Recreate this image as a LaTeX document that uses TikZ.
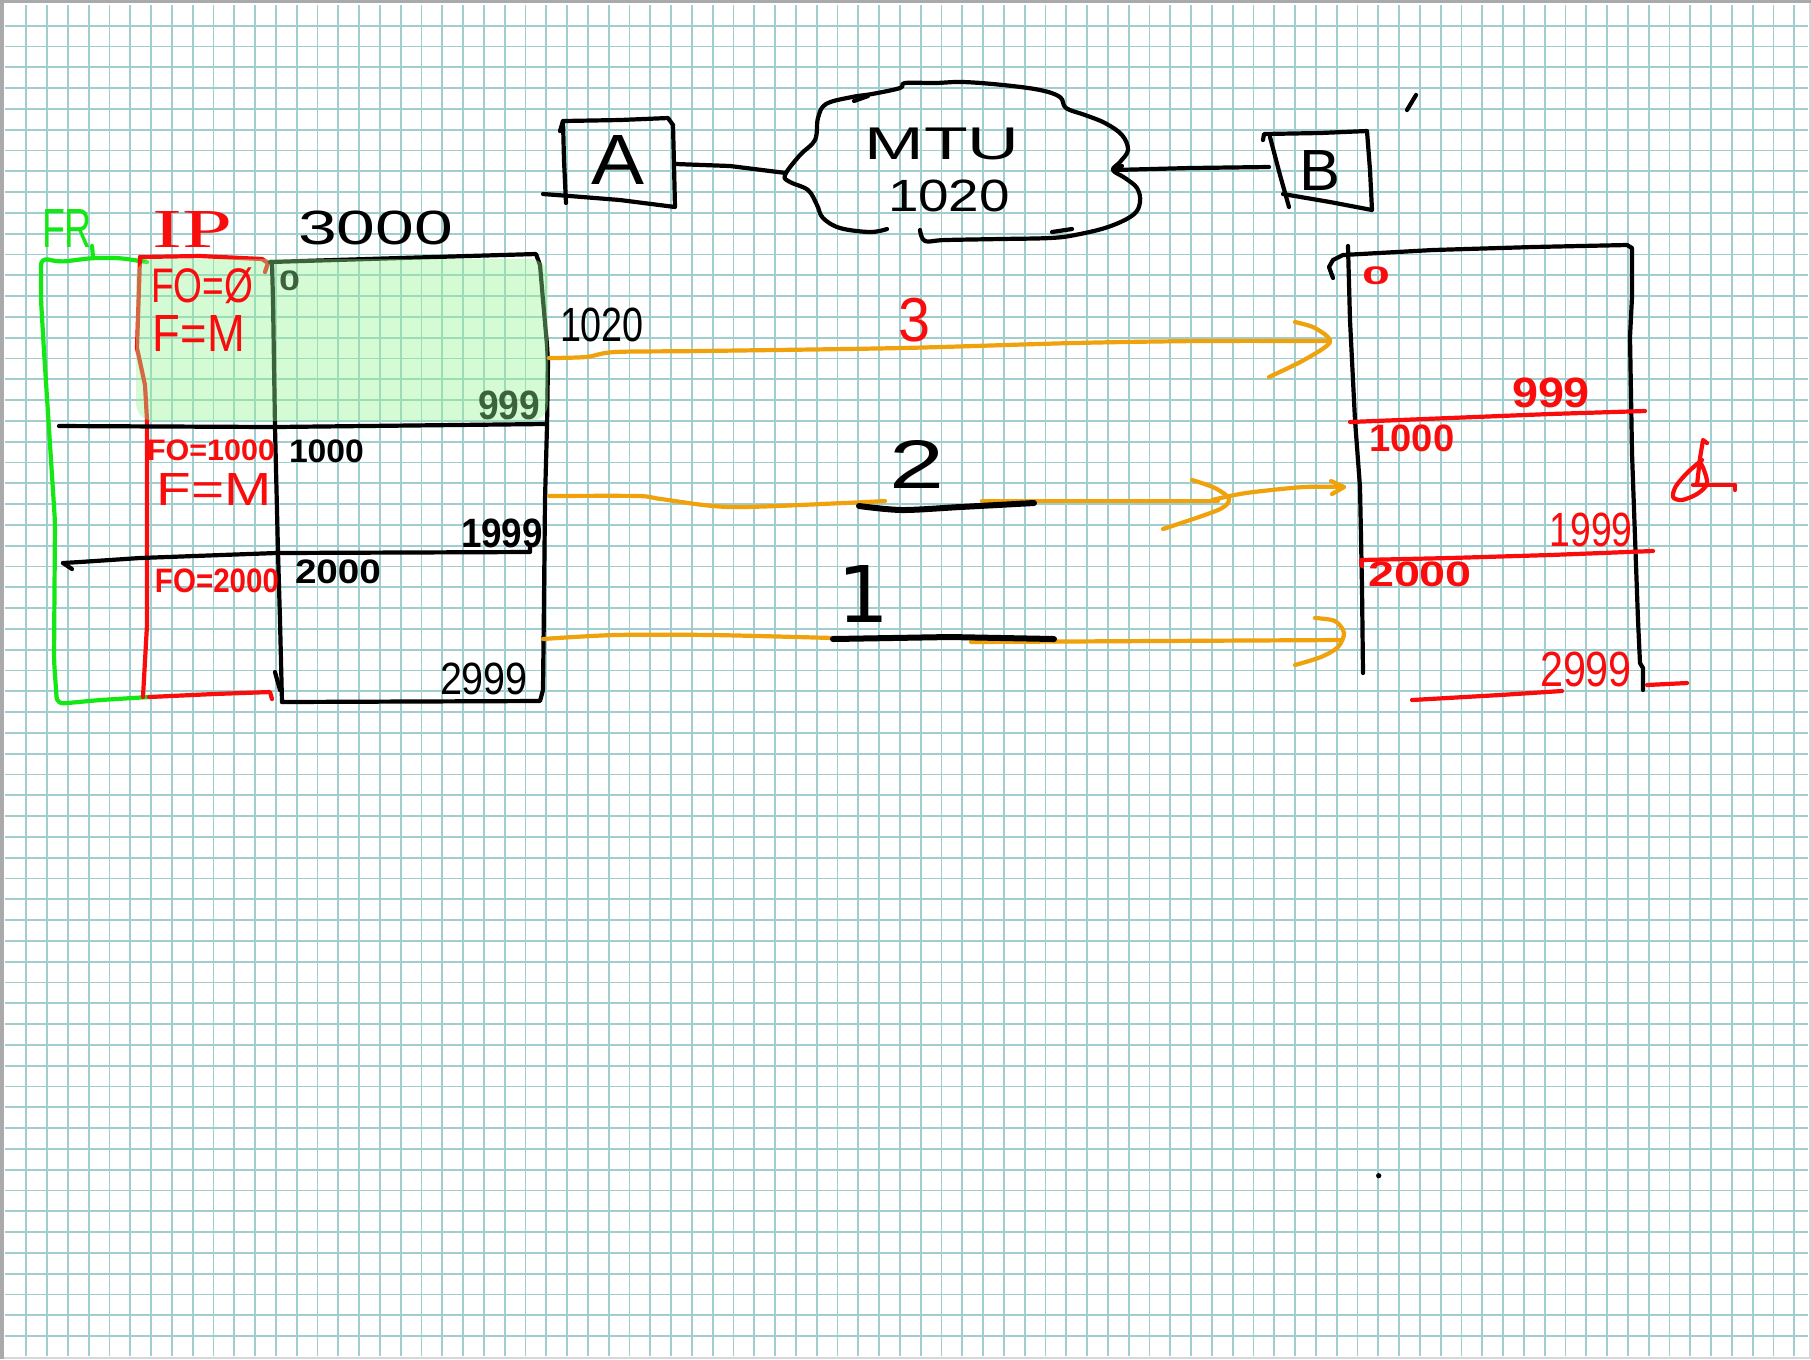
\documentclass[tikz,border=0pt]{standalone}
\usepackage{fontspec}
\setmainfont{Liberation Sans}
\newfontfamily\serifhw{Liberation Serif}
\newfontfamily\djv{DejaVu Sans}
\usepackage{graphicx}
\newlength\pxu \setlength\pxu{0.01cm}
\newcommand{\hwt}[3]{\resizebox*{#1\pxu}{#2\pxu}{#3}}
\newcommand{\hwb}[3]{\resizebox*{#1\pxu}{#2\pxu}{\bfseries #3}}
\definecolor{hred}{RGB}{250,12,12}
\definecolor{hgreen}{RGB}{20,232,20}
\definecolor{horange}{RGB}{240,162,12}
\definecolor{gridc}{RGB}{160,206,206}
\definecolor{hlgreen}{RGB}{150,245,150}
\definecolor{frameA}{RGB}{170,170,170}
\definecolor{frameB}{RGB}{215,215,215}
\begin{document}
\begin{tikzpicture}[x=0.01cm, y=-0.01cm,
  hw/.style={line width=0.42mm, line cap=round, line join=round},
  blk/.style={hw, draw=black},
  rd/.style={hw, draw=hred},
  grn/.style={hw, draw=hgreen},
  og/.style={hw, draw=horange},
  gline/.style={draw=gridc, line width=0.17mm},
  txt/.style={inner sep=0pt, outer sep=0pt}]
\useasboundingbox (0,0) rectangle (1811,1359);
\fill[white] (0,0) rectangle (1811,1359);
% grid
\foreach \k in {1,...,86} {\pgfmathsetmacro\gx{5.5+20.8*\k}\draw[gline] (\gx,5) -- (\gx,1356);}
\foreach \k in {1,...,64} {\pgfmathsetmacro\gy{4.9+20.8*\k}\draw[gline] (5,\gy) -- (1808,\gy);}
% frame
\draw[frameB, line width=0.2mm] (1810,0) -- (1810,1358) -- (0,1358);
\draw[frameA, line width=0.3mm] (2,1359) -- (2,1.5) -- (1811,1.5);

% ---------------- left packet ----------------
% green frame box
\draw[grn, rounded corners=2pt] (147,262) -- (120,258) -- (92,258) -- (60,262) -- (41,258) -- (41,300) -- (44,351) -- (55,522) -- (54,660) -- (57,704) -- (100,700) -- (149,697);
\draw[grn] (92,246) -- (93,257);
% red IP header column
\draw[rd] (140,257) -- (200,256) -- (262,259) -- (268,263) -- (265,272);
\draw[rd] (140,257) -- (137,348) -- (145,385) -- (147,420) -- (147,625) -- (143,697);
\draw[rd] (149,697) -- (214,694) -- (270,692) -- (272,699);
% black data box
\draw[blk] (270,262) -- (400,258) -- (536,254) -- (540,265) -- (543,300) -- (547,345) -- (548,362) -- (547,426) -- (545,500) -- (544,600) -- (543,690) -- (540,701) -- (282,702);
\draw[blk] (272,262) -- (273,300) -- (275,427) -- (278,552) -- (280,620) -- (282,702);
\draw[blk] (275,672) -- (280,690);
\draw[blk] (59,426) -- (275,427) -- (545,424);
\draw[blk] (63,563) -- (80,562) -- (140,558) -- (276,553) -- (530,552) -- (530,546);
\draw[blk] (63,563) -- (72,569);
\node[txt] (t0) at (289.5,281) {\hwb{21}{20}{0}};
\node[txt] (t999) at (509,405.5) {\hwb{62}{29}{999}};
% green highlight
\fill[hlgreen, fill opacity=0.4, rounded corners=5pt] (136,259) rectangle (548,421);

\node[txt, text=hgreen] (tFR) at (67,228) {\hwt{50}{38}{FR}};
\node[txt, text=hred] (tIP) at (193,229) {\serifhw\hwt{80}{36}{IP}};
\node[txt] (t3000) at (375.5,228) {\hwt{155}{34}{3000}};
\node[txt, text=hred] (tFO0) at (202,286) {\hwt{102}{36}{FO=Ø}};
\node[txt, text=hred] (tFM1) at (199,333) {\hwt{92}{36}{F=M}};
\node[txt] (t1020a) at (602,325) {\hwt{84}{34}{1020}};
\node[txt, text=hred] (tFO1000) at (211,450.5) {\hwb{128}{21}{FO=1000}};
\node[txt] (t1000) at (326.5,451.5) {\hwb{75}{23}{1000}};
\node[txt, text=hred] (tFM2) at (214.5,489) {\hwt{115}{32}{F=M}};
\node[txt] (t1999) at (502,533.5) {\hwb{82}{29}{1999}};
\node[txt, text=hred] (tFO2000) at (217,581) {\hwb{124}{24}{FO=2000}};
\node[txt] (t2000) at (338,572) {\hwb{86}{24}{2000}};
\node[txt] (t2999) at (484,679) {\hwt{88}{32}{2999}};

% ---------------- top: A -- cloud -- B ----------------
\draw[blk] (560,131) -- (563,121) -- (620,120) -- (668,118) -- (673,125) -- (674,165) -- (675,207) -- (620,200) -- (570,196) -- (543,194);
\draw[blk] (563,121) -- (564,160) -- (566,203);
\node[txt] (tA) at (618,160) {\hwt{53}{49}{A}};
\coordinate (aR) at (676,164);
\coordinate (cL) at (786,173);
\coordinate (cR) at (1114,170);
\coordinate (bL) at (1269,167);
\draw[blk] (aR) -- (730,166) -- (cL);
\draw[blk] plot[smooth, tension=0.6] coordinates {(887,229) (870,232) (840,228) (823,218) (817,205) (808,190) (790,182) (785,175) (800,155) (815,140) (818,118) (826,104) (852,97) (872,94) (900,88) (905,83) (935,83) (963,82) (1003,85) (1040,90) (1060,97) (1066,108) (1085,115) (1105,123) (1122,135) (1128,150) (1120,162) (1113,170) (1125,178) (1137,188) (1140,202) (1133,215) (1108,227) (1075,235) (1050,238) (1000,239) (945,240) (925,241) (920,230)};
\draw[blk] (854,101) -- (868,96);
\draw[blk] (1052,232) -- (1072,229);
\node[txt] (tMTU) at (942,144) {\hwt{155}{32}{MTU}};
\node[txt] (t1020b) at (949,196) {\hwt{122}{32}{1020}};
\draw[blk] (cR) -- (1190,168) -- (bL);
\draw[blk] (cR) -- (1122,166);
\draw[blk] (1263,140) -- (1264,134) -- (1320,133) -- (1367,131) -- (1370,170) -- (1372,210) -- (1330,202) -- (1283,194);
\draw[blk] (1270,137) -- (1280,175) -- (1289,207);
\node[txt] (tB) at (1320,170) {\hwt{41}{40}{B}};
\draw[blk] (1407,110) -- (1416,95);

% ---------------- right: reassembly buffer ----------------
\draw[blk] (1333,278) -- (1329,267) -- (1333,260) -- (1343,255) -- (1433,250) -- (1533,247) -- (1627,245) -- (1632,248) -- (1632,297) -- (1630,337) -- (1632,453) -- (1635,537) -- (1638,620) -- (1640,663) -- (1643,668) -- (1643,690);
\draw[blk] (1348,246) -- (1350,320) -- (1355,420) -- (1360,487) -- (1362,587) -- (1363,673);
\draw[rd] (1350,422) -- (1450,418) -- (1550,414) -- (1645,411);
\draw[rd] (1362,566) -- (1361,560) -- (1450,558) -- (1550,555) -- (1653,551);
\draw[rd] (1412,700) -- (1500,695) -- (1562,691);
\draw[rd] (1647,685) -- (1687,683);
\node[txt, text=hred] (r0) at (1376,276) {\hwb{28}{18}{0}};
\node[txt, text=hred] (r999) at (1551,393) {\hwb{78}{30}{999}};
\node[txt, text=hred] (r1000) at (1412,438) {\hwb{85}{27}{1000}};
\node[txt, text=hred] (r1999) at (1591,530) {\hwt{83}{34}{1999}};
\node[txt, text=hred] (r2000) at (1420,574.5) {\hwb{104}{25}{2000}};
\node[txt, text=hred] (r2999) at (1586,669.5) {\hwt{92}{35}{2999}};
% red sketch symbol
\draw[rd] (1707,443) -- (1703,440) -- (1700,458) -- (1697,485);
\draw[rd] plot[smooth] coordinates {(1702,460) (1688,472) (1676,486) (1673,497) (1682,500) (1697,494) (1707,484) (1704,470) (1700,462)};
\draw[rd] (1693,485) -- (1735,485) -- (1735,490);

% ---------------- fragment arrows ----------------
\coordinate (s3) at (549,358);
\coordinate (s2) at (549,496);
\coordinate (s1) at (543,639);
\draw[og] plot[smooth] coordinates {(s3) (586,357) (615,352) (700,351) (902,348) (1074,343) (1200,341) (1328,341)};
\draw[og] plot[smooth] coordinates {(1295,322) (1315,328) (1330,342) (1304,360) (1269,377)};
\draw[og] plot[smooth] coordinates {(s2) (638,496) (661,499) (730,507) (844,503) (885,501)};
\draw[og] (982,501) -- (1218,501);
\draw[og] plot[smooth] coordinates {(1192,480) (1215,488) (1229,499) (1218,510) (1163,529)};
\draw[og] plot[smooth] coordinates {(1212,500) (1246,493) (1304,487) (1344,487)};
\draw[og] (1331,481) -- (1344,487) -- (1332,494);
\draw[og] plot[smooth] coordinates {(s1) (615,635) (712,635) (833,638)};
\draw[og] (971,642) -- (1340,640);
\draw[og] plot[smooth] coordinates {(1315,618) (1335,621) (1344,633) (1338,647) (1321,657) (1295,665)};
\draw[blk, line width=0.6mm] plot[smooth] coordinates {(859,506) (902,510) (960,507) (1034,503)};
\draw[blk, line width=0.6mm] (833,639) -- (950,637) -- (1054,639);
\node[txt, text=hred] (t3) at (914,320) {\hwt{32}{44}{3}};
\node[txt] (t2) at (917,464) {\hwt{55}{48}{2}};
\node[txt] (t1) at (863,594) {\djv\hwt{52}{57}{1}};
\fill (1378.7,1175.7) circle[radius=0.75pt];
\end{tikzpicture}
\end{document}
